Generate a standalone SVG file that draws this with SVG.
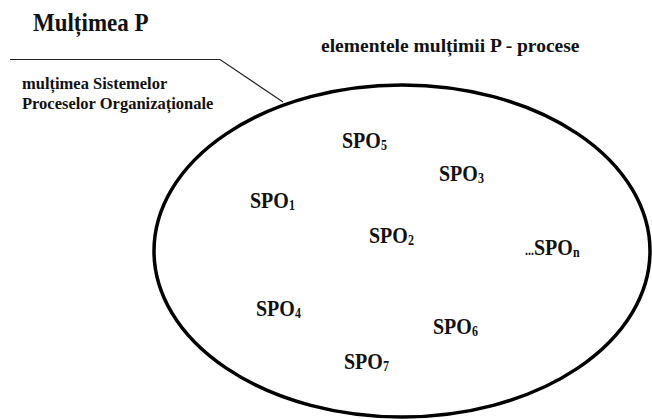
<svg xmlns="http://www.w3.org/2000/svg" width="652" height="419" viewBox="0 0 652 419">
<style>
text{font-family:'Liberation Serif','Times New Roman',serif;font-weight:700;fill:#111}
.spo{font-size:20px}
.sub{font-size:12px}
.title{font-size:23px}
.cap{font-size:19.5px}
.lbl{font-size:16.5px}
</style>
<rect width="652" height="419" fill="#fff"/>
<g id="title"><text class="title" transform="translate(33,31) scale(1,1.1)">Mulțimea P</text></g>
<g id="caption"><text class="cap" x="321" y="52">elementele mulțimii P - procese</text></g>
<g id="set-label">
<text class="lbl" x="22" y="89">mulțimea Sistemelor</text>
<text class="lbl" x="22" y="109">Proceselor Organizaționale</text>
</g>
<g id="connectors"><polyline points="10,59.5 220,59.5 283,102" fill="none" stroke="#222" stroke-width="1.2"/></g>
<g id="setP"><ellipse cx="402" cy="251" rx="248" ry="166" fill="none" stroke="#000" stroke-width="3.5"/></g>
<g id="spo5"><text class="spo" transform="translate(342,148) scale(1,1.15)">SPO<tspan class="sub" dy="2">5</tspan></text></g>
<g id="spo3"><text class="spo" transform="translate(439,181) scale(1,1.15)">SPO<tspan class="sub" dy="2">3</tspan></text></g>
<g id="spo1"><text class="spo" transform="translate(250,208) scale(1,1.15)">SPO<tspan class="sub" dy="2">1</tspan></text></g>
<g id="spo2"><text class="spo" transform="translate(369,243) scale(1,1.15)">SPO<tspan class="sub" dy="2">2</tspan></text></g>
<g id="spon"><text class="spo" transform="translate(525,255) scale(1,1.15)"><tspan class="sub">...</tspan>SPO<tspan class="sub" dy="2">n</tspan></text></g>
<g id="spo4"><text class="spo" transform="translate(256,316) scale(1,1.15)">SPO<tspan class="sub" dy="2">4</tspan></text></g>
<g id="spo6"><text class="spo" transform="translate(433,334) scale(1,1.15)">SPO<tspan class="sub" dy="2">6</tspan></text></g>
<g id="spo7"><text class="spo" transform="translate(344,369) scale(1,1.15)">SPO<tspan class="sub" dy="2">7</tspan></text></g>
</svg>
